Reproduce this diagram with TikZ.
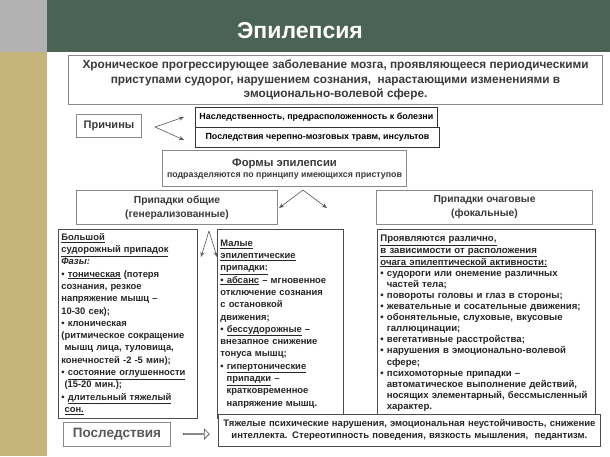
\documentclass[tikz,border=0pt]{standalone}
\usepackage{fontspec}
\setmainfont{Liberation Sans}
\usetikzlibrary{arrows.meta,shapes.arrows}
\definecolor{hdr}{HTML}{4B6257}
\definecolor{khaki}{HTML}{C6B57A}
\definecolor{txt}{HTML}{3A3A3A}
\definecolor{bord}{HTML}{8A8A8A}
\newcommand{\ul}[1]{\underline{#1}}
\tikzset{
 box/.style={draw=bord,line width=1pt,fill=white,inner sep=2pt,text=txt,font=\bfseries},
 blk/.style={draw=black!80,line width=0.8pt,fill=white,inner sep=1pt,font=\bfseries\fontsize{8.9}{10}\selectfont},
 col/.style={draw=black!70,line width=0.8pt,fill=white,text=black!85,anchor=north west,inner sep=3pt,align=left,font=\bfseries\fontsize{9.4}{12.3}\selectfont},
 arr/.style={-{Stealth[length=5pt,width=4pt]},black!65,line width=0.6pt}
}
\begin{document}
\begin{tikzpicture}[x=1pt,y=-1pt]
\useasboundingbox (0,0) rectangle (610,456);
\fill[white] (0,0) rectangle (610,456);
\fill[khaki] (0,52) rectangle (47,456);
\fill[gray!60] (0,0) rectangle (47,52);
\fill[hdr] (47,0) rectangle (610,52);
\node[text=white,font=\bfseries\fontsize{23}{24}\selectfont] (title) at (300,31) {Эпилепсия};
\node[box,minimum width=534,minimum height=49,anchor=north west,align=center,font=\bfseries\fontsize{11.8}{14.5}\selectfont] (def) at (68,55) {Хроническое прогрессирующее заболевание мозга, проявляющееся периодическими\\приступами судорог, нарушением сознания, \ нарастающими изменениями в\\эмоционально-волевой сфере.};
\node[box,minimum width=65,minimum height=23,anchor=north west,font=\bfseries\fontsize{11}{12}\selectfont] (cause) at (76,114) {Причины};
\node[blk,minimum width=242,minimum height=20,anchor=north west] (c1) at (195,107) {Наследственность, предрасположенность к болезни};
\node[blk,minimum width=244,minimum height=20,anchor=north west] (c2) at (195,127) {Последствия черепно-мозговых травм, инсультов};
\coordinate (cs) at (155,127);
\draw[arr] (cs) -- (184,117);
\draw[arr] (cs) -- (184,140);
\node[box,minimum width=244,minimum height=36,anchor=north west,align=center] (forms) at (162,150) {{\fontsize{11.3}{13}\selectfont Формы эпилепсии}\\[-1pt]{\fontsize{8.8}{10}\selectfont подразделяются по принципу имеющихся приступов}};
\node[box,minimum width=201,minimum height=34,anchor=north west,align=center,font=\bfseries\fontsize{10.3}{14}\selectfont] (gen) at (76,190) {Припадки общие\\(генерализованные)};
\node[box,minimum width=216,minimum height=34,anchor=north west,align=center,font=\bfseries\fontsize{10.3}{14}\selectfont] (foc) at (376,190) {Припадки очаговые\\(фокальные)};
\coordinate (fa) at (303,190);
\draw[arr] (fa) -- (279,208);
\draw[arr] (fa) -- (327,208);
\node[col,text width=133,minimum height=189] (big) at (58,229) {\ul{Большой}\\\ul{судорожный припадок}\\\textit{Фазы:}\\• \ul{тоническая} (потеря\\сознания, резкое\\напряжение мышц –\\10-30 сек);\\• клоническая\\(ритмическое сокращение\\\ мышц лица, туловища,\\конечностей -2 -5 мин);\\• \ul{состояние оглушенности}\\\ (15-20 мин.);\\• \ul{длительный тяжелый}\\\ \ul{сон.}};
\node[col,text width=120,minimum height=189] (small) at (217,229) {\ul{Малые}\\\ul{эпилептические}\\\ul{припадки:}\\\ul{• абсанс} – мгновенное\\отключение сознания\\с остановкой\\движения;\\• \ul{бессудорожные} –\\внезапное снижение\\тонуса мышц;\\• \ul{гипертонические}\\\ \ \ul{припадки} –\\\ \ кратковременное\\\ \ напряжение мышц.};
\coordinate (sa) at (209,231);
\draw[arr] (sa) -- (201,257);
\draw[arr] (sa) -- (217,257);
\node[col,text width=212,minimum height=188,font=\bfseries\fontsize{9.6}{11.1}\selectfont] (rt) at (377,229) {\ul{Проявляются различно,}\\\ul{в зависимости от расположения}\\\ul{очага эпилептической активности:}\\• судороги или онемение различных\\\ \ частей тела;\\• повороты головы и глаз в стороны;\\• жевательные и сосательные движения;\\• обонятельные, слуховые, вкусовые\\\ \ галлюцинации;\\• вегетативные расстройства;\\• нарушения в эмоционально-волевой\\\ \ сфере;\\• психомоторные припадки –\\\ \ автоматическое выполнение действий,\\\ \ носящих элементарный, бессмысленный\\\ \ характер.};
\node[box,minimum width=107,minimum height=24,anchor=north west,text=black!65,font=\bfseries\fontsize{13.5}{14}\selectfont] (cons) at (63,422) {Последствия};
\node[col,text width=376,minimum height=32,inner sep=3pt,font=\bfseries\fontsize{9.5}{12}\selectfont,align=center] (res) at (218,414) {Тяжелые психические нарушения, эмоциональная неустойчивость, снижение\\интеллекта. Стереотипность поведения, вязкость мышления, \ педантизм.};
\node[single arrow,draw=black!70,line width=0.6pt,fill=white,minimum height=26,minimum width=10,single arrow head extend=2pt,inner sep=0pt] (oa) at (196,434) {};
\end{tikzpicture}
\end{document}
